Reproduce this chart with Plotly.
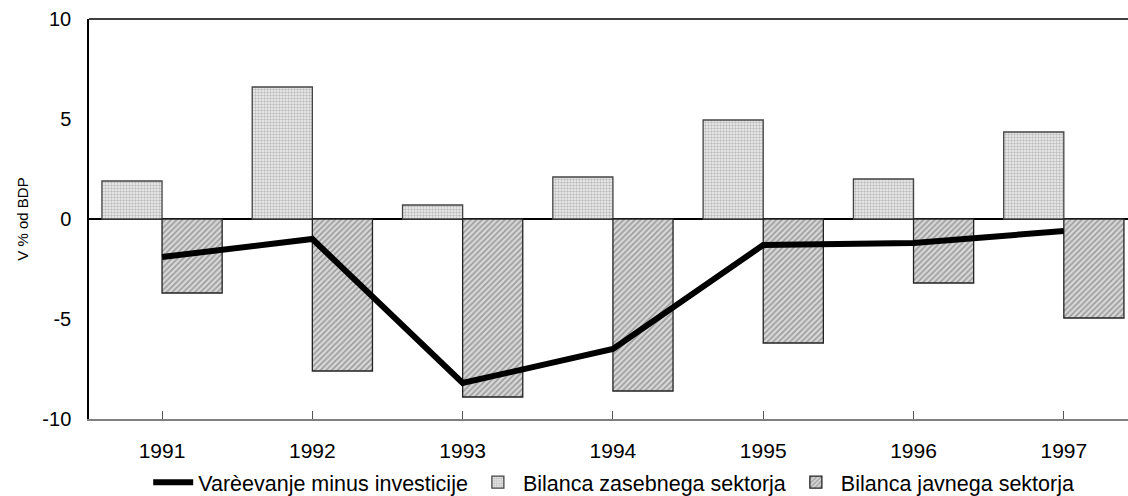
import plotly.graph_objects as go

years = ["1991", "1992", "1993", "1994", "1995", "1996", "1997"]
saving_minus_investment = [-1.9, -1.0, -8.2, -6.5, -1.3, -1.2, -0.6]
private_balance = [1.9, 6.6, 0.7, 2.1, 4.95, 2.0, 4.35]
public_balance = [-3.7, -7.6, -8.9, -8.6, -6.2, -3.2, -4.95]

names = ["Varèevanje minus investicije", "Bilanca zasebnega sektorja", "Bilanca javnega sektorja"]
y_ticks = [-10, -5, 0, 5, 10]

FONT = "Liberation Sans, Arial, sans-serif"

fig = go.Figure()
fig.add_trace(go.Scatter(
    x=years, y=saving_minus_investment, mode="lines", name=names[0],
    line=dict(color="black", width=6),
))
fig.add_trace(go.Bar(
    x=years, y=private_balance, name=names[1],
    marker=dict(color="white", line=dict(color="#444444", width=1.3),
                pattern=dict(shape=".", fgcolor="#8a8a8a", bgcolor="#f0f0f0", size=3, solidity=0.5)),
))
fig.add_trace(go.Bar(
    x=years, y=public_balance, name=names[2],
    marker=dict(color="white", line=dict(color="#222222", width=1.3),
                pattern=dict(shape="/", fgcolor="#5e5e5e", bgcolor="#d8d8d8", size=4, solidity=0.4)),
))

fig.update_layout(
    width=1128, height=526,
    margin=dict(l=89, r=0, t=19, b=107),
    barmode="group", bargap=0.2, bargroupgap=0,
    plot_bgcolor="white", paper_bgcolor="white",
    font=dict(family=FONT, color="black", size=21),
    showlegend=True,
    legend=dict(orientation="h", x=0.505, xanchor="center", y=-0.158, yanchor="middle",
                font=dict(size=21.5), traceorder="normal", itemwidth=40,
                bgcolor="rgba(0,0,0,0)"),
    xaxis=dict(
        type="category", range=[-0.486, 6.427],
        showline=True, linecolor="#808080", linewidth=2,
        ticks="inside", ticklen=8, tickcolor="#555555", tickwidth=1,
        showgrid=False, tickfont=dict(size=21), ticklabelstandoff=12,
    ),
    yaxis=dict(
        range=[-10, 10], tickvals=y_ticks, ticktext=[str(v) for v in y_ticks],
        showline=True, linecolor="black", linewidth=1.5,
        ticks="", showgrid=False,
        zeroline=True, zerolinecolor="black", zerolinewidth=1.5,
        tickfont=dict(size=20), ticklabelstandoff=12,
        title=dict(text="V % od BDP", font=dict(size=15), standoff=10),
    ),
    shapes=[dict(type="line", xref="paper", yref="paper", x0=0, x1=1, y0=1, y1=1,
                 line=dict(color="black", width=1.5))],
)

fig.write_html("out.html", config={"displayModeBar": False},
               post_script="document.body.style.margin='0px';document.body.style.overflow='hidden';")
